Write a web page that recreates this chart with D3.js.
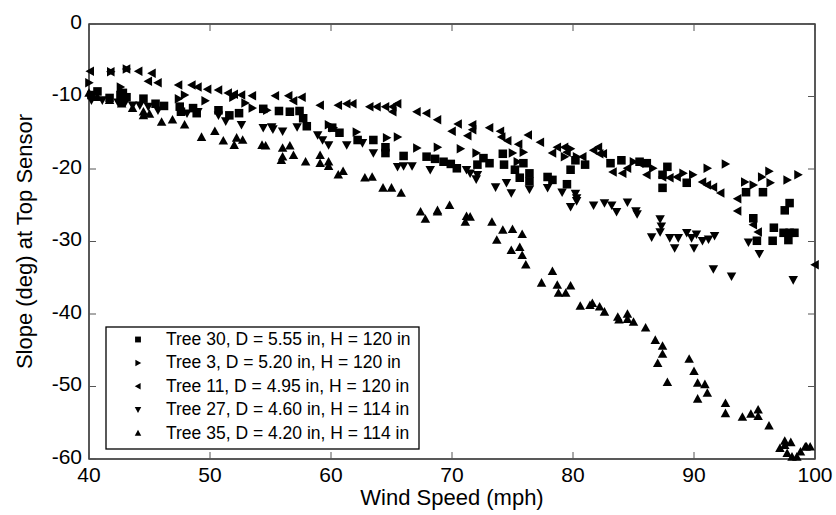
<!DOCTYPE html>
<html><head><meta charset="utf-8">
<script src="https://cdn.jsdelivr.net/npm/d3@7"></script>
<style>
html,body{margin:0;padding:0;background:#fff;}
text{font-family:"Liberation Sans",Arial,Helvetica,sans-serif;fill:#000;}
</style></head>
<body>
<svg id="chart" width="836" height="515"></svg>
<script>
// ---------- data ----------
const xTicks = [40, 50, 60, 70, 80, 90, 100];
const yTicks = [0, -10, -20, -30, -40, -50, -60];
const xLabel = "Wind Speed (mph)";
const yLabel = "Slope (deg) at Top Sensor";
const seriesNames = [
  "Tree 30, D = 5.55 in, H = 120 in",
  "Tree 3, D = 5.20 in, H = 120 in",
  "Tree 11, D = 4.95 in, H = 120 in",
  "Tree 27, D = 4.60 in, H = 114 in",
  "Tree 35, D = 4.20 in, H = 114 in"
];
const seriesShapes = ["square", "right", "left", "down", "up"];

const tree30 = [[40.2,-9.8],[40.7,-9.3],[41.7,-10.2],[42.6,-9.8],[42.8,-9.5],[43.1,-10.1],[44.5,-10.3],[45.5,-11.0],[46.2,-11.3],[47.5,-11.4],[47.6,-12.1],[48.6,-11.6],[48.9,-12.3],[50.7,-11.9],[51.6,-12.6],[52.4,-12.3],[54.4,-11.7],[55.7,-12.0],[56.6,-12.1],[57.4,-12.0],[57.7,-13.0],[58.0,-14.1],[60.1,-14.3],[60.7,-15.0],[62.2,-16.0],[63.5,-16.0],[64.5,-17.0],[64.5,-17.8],[66.0,-18.2],[67.9,-18.3],[68.6,-18.6],[69.3,-19.0],[69.9,-19.3],[70.4,-19.9],[72.1,-19.4],[72.6,-18.5],[73.1,-19.2],[74.2,-17.9],[74.3,-19.4],[75.2,-20.1],[75.9,-19.2],[75.6,-21.2],[76.4,-20.6],[76.4,-21.7],[77.9,-21.1],[78.3,-21.5],[79.5,-22.1],[79.8,-20.1],[80.2,-18.8],[81.0,-19.4],[83.1,-19.2],[84.0,-18.8],[85.5,-19.0],[86.1,-19.2],[87.8,-19.7],[87.4,-20.8],[87.4,-22.6],[89.4,-21.9],[94.3,-23.2],[95.7,-23.2],[94.9,-26.8],[97.9,-24.7],[97.5,-25.7],[96.6,-28.1],[96.5,-29.9],[95.2,-29.9],[97.4,-28.8],[97.9,-28.8],[98.3,-28.8],[97.8,-29.8]];

const tree3 = [[40.0,-8.1],[41.8,-6.6],[43.1,-6.2],[42.6,-8.7],[42.7,-9.4],[47.4,-10.3],[47.9,-9.8],[49.6,-10.6],[51.9,-10.1],[52.9,-10.9],[53.5,-11.6],[54.7,-11.9],[59.8,-13.9],[60.2,-14.3],[62.1,-14.9],[64.6,-15.7],[65.5,-15.6],[67.1,-17.1],[68.8,-17.0],[70.7,-17.2],[72.0,-17.8],[75.0,-17.8],[75.9,-17.7],[75.4,-19.0],[79.8,-17.2],[79.3,-18.3],[80.3,-18.3],[85.0,-19.0],[86.6,-19.9],[89.1,-20.6],[89.9,-20.8],[91.1,-19.9],[92.6,-19.3],[94.2,-21.8],[94.9,-22.2],[95.6,-21.1],[96.3,-21.9],[96.2,-20.3],[97.7,-21.5],[98.6,-20.8]];

const tree11 = [[40.1,-6.5],[41.8,-6.6],[43.1,-6.2],[44.1,-6.5],[45.2,-6.8],[44.9,-7.9],[45.7,-8.1],[47.4,-8.4],[48.5,-8.4],[49.0,-8.7],[49.8,-9.0],[50.7,-9.1],[51.5,-9.5],[52.0,-9.7],[52.6,-9.8],[53.5,-9.9],[55.4,-9.9],[56.5,-9.9],[56.9,-10.6],[57.6,-10.1],[59.1,-11.2],[60.6,-11.2],[61.3,-11.0],[61.8,-11.0],[63.2,-11.4],[63.8,-11.4],[64.5,-11.4],[65.1,-11.4],[65.5,-11.0],[65.1,-12.1],[67.1,-12.1],[67.9,-12.3],[68.8,-13.2],[70.0,-14.8],[70.5,-13.8],[71.3,-15.4],[71.7,-14.6],[71.7,-13.9],[73.1,-14.3],[74.0,-14.8],[74.1,-15.6],[74.6,-16.1],[75.5,-16.6],[76.3,-15.3],[77.3,-16.3],[78.3,-17.8],[78.7,-17.0],[79.3,-17.0],[79.5,-17.7],[80.8,-18.3],[81.7,-17.4],[82.1,-17.0],[82.2,-17.9],[82.5,-17.9],[83.3,-20.4],[84.1,-20.6],[84.5,-19.9],[85.5,-19.2],[86.1,-20.8],[87.4,-21.1],[88.0,-21.2],[88.6,-21.1],[90.7,-21.8],[91.1,-22.2],[91.6,-22.5],[92.2,-23.3],[93.6,-24.1],[93.6,-25.8],[94.9,-27.7],[95.3,-28.7],[100.0,-33.2]];

const tree27 = [[40.2,-10.5],[41.1,-10.5],[42.4,-10.8],[43.0,-10.8],[43.6,-11.2],[44.2,-11.2],[44.9,-11.4],[45.7,-11.9],[48.1,-12.3],[49.0,-12.1],[50.7,-12.6],[51.3,-13.4],[52.6,-13.9],[54.4,-14.3],[55.1,-14.2],[55.2,-14.5],[56.0,-14.8],[57.2,-14.2],[58.9,-15.3],[59.3,-16.0],[59.8,-16.7],[61.3,-16.7],[62.6,-16.4],[63.5,-17.8],[65.5,-19.7],[66.0,-19.6],[66.7,-19.6],[68.2,-20.1],[71.2,-20.1],[71.5,-20.6],[72.1,-20.8],[72.0,-21.4],[73.6,-22.5],[74.5,-21.9],[74.9,-23.3],[76.4,-22.8],[77.9,-22.6],[79.1,-23.2],[80.2,-23.4],[80.3,-24.0],[80.3,-24.4],[79.8,-25.2],[81.7,-25.0],[82.6,-24.7],[83.2,-25.0],[83.6,-25.9],[84.5,-24.6],[85.2,-25.8],[85.3,-26.2],[87.2,-26.9],[87.3,-27.9],[87.2,-28.7],[86.5,-29.4],[88.0,-29.5],[88.4,-30.9],[88.7,-29.5],[89.4,-28.8],[89.8,-29.5],[90.0,-30.9],[90.2,-29.0],[90.7,-29.9],[91.2,-29.7],[91.7,-29.2],[91.6,-33.8],[93.1,-34.8],[94.5,-30.1],[95.4,-31.7],[98.2,-35.3]];

const tree35 = [[40.0,-9.5],[40.7,-10.1],[41.7,-10.5],[42.7,-11.0],[43.6,-11.6],[44.5,-12.1],[44.5,-12.6],[45.0,-12.4],[46.0,-13.5],[46.9,-13.2],[47.9,-13.9],[49.3,-15.6],[50.4,-14.8],[51.1,-16.1],[52.0,-16.7],[52.2,-15.7],[52.7,-16.0],[54.3,-16.7],[54.6,-16.8],[56.0,-17.1],[56.0,-18.3],[56.6,-16.8],[56.9,-18.1],[55.9,-18.8],[57.9,-19.0],[59.1,-18.1],[59.1,-19.2],[59.8,-19.0],[59.8,-19.6],[60.6,-20.8],[61.0,-20.3],[62.8,-21.2],[63.4,-21.1],[64.3,-22.6],[65.0,-22.6],[65.8,-23.3],[67.4,-25.9],[67.8,-26.9],[68.8,-25.9],[68.8,-25.7],[69.8,-25.0],[71.2,-26.5],[71.5,-26.6],[71.1,-27.3],[73.3,-27.3],[74.2,-28.4],[75.0,-28.3],[75.8,-29.0],[73.7,-29.8],[74.9,-31.2],[75.6,-30.8],[75.8,-31.9],[76.1,-33.2],[78.3,-34.1],[77.4,-35.7],[78.7,-36.0],[79.8,-36.1],[78.8,-37.1],[79.4,-37.1],[80.6,-38.9],[81.4,-38.8],[81.6,-38.5],[82.2,-39.0],[82.6,-39.7],[83.7,-40.4],[83.8,-40.8],[84.5,-40.0],[84.5,-40.7],[85.0,-41.1],[86.0,-41.9],[86.8,-43.6],[87.4,-44.4],[87.4,-45.5],[87.0,-46.8],[87.8,-49.4],[89.6,-46.2],[90.0,-47.9],[90.3,-49.5],[90.9,-49.7],[90.3,-51.7],[91.1,-50.9],[92.6,-52.3],[92.6,-53.7],[94.0,-54.2],[94.7,-53.8],[95.3,-53.2],[95.3,-54.1],[96.2,-55.4],[97.5,-57.5],[98.0,-57.7],[97.1,-58.5],[97.7,-59.2],[98.1,-59.7],[98.8,-59.0],[99.2,-58.3],[99.3,-58.3],[99.6,-58.3],[97.5,-58.1],[98.5,-59.7]];

const seriesData = [tree30, tree3, tree11, tree27, tree35];

// ---------- layout ----------
const svg = d3.select("#chart");
const mLeft = 89, mRight = 815, mTop = 24, mBottom = 459;
const x = d3.scaleLinear().domain([40, 100]).range([mLeft, mRight]);
const y = d3.scaleLinear().domain([-60, 0]).range([mBottom, mTop]);

function markerPath(shape, s) {
  const h = s / 2;
  switch (shape) {
    case "square": { const a = s * 0.45; return `M${-a},${-a}H${a}V${a}H${-a}Z`; }
    case "up":    return `M0,${-h}L${h},${h*0.8}L${-h},${h*0.8}Z`;
    case "down":  return `M0,${h}L${h},${-h*0.8}L${-h},${-h*0.8}Z`;
    case "right": return `M${h},0L${-h*0.8},${h}L${-h*0.8},${-h}Z`;
    case "left":  return `M${-h},0L${h*0.8},${h}L${h*0.8},${-h}Z`;
  }
}

// frame
svg.append("rect").attr("x", mLeft).attr("y", mTop)
  .attr("width", mRight - mLeft).attr("height", mBottom - mTop)
  .attr("fill", "none").attr("stroke", "#000").attr("stroke-width", 1.3);

// inside ticks on all four sides
const tickLen = 7;
const tg = svg.append("g").attr("stroke", "#555").attr("stroke-width", 1);
xTicks.forEach(t => {
  tg.append("line").attr("x1", x(t)).attr("x2", x(t)).attr("y1", mBottom).attr("y2", mBottom - tickLen);
  tg.append("line").attr("x1", x(t)).attr("x2", x(t)).attr("y1", mTop).attr("y2", mTop + tickLen);
});
yTicks.forEach(t => {
  tg.append("line").attr("x1", mLeft).attr("x2", mLeft + tickLen).attr("y1", y(t)).attr("y2", y(t));
  tg.append("line").attr("x1", mRight).attr("x2", mRight - tickLen).attr("y1", y(t)).attr("y2", y(t));
});

// tick labels
svg.append("g").selectAll("text").data(xTicks).join("text")
  .attr("x", d => x(d)).attr("y", 482)
  .attr("text-anchor", "middle").attr("font-size", 21)
  .text(d => d);
svg.append("g").selectAll("text").data(yTicks).join("text")
  .attr("x", mLeft - 7).attr("y", d => y(d) + 4.5)
  .attr("text-anchor", "end").attr("font-size", 21)
  .text(d => d === 0 ? "0" : "-" + Math.abs(d));

// axis titles
svg.append("text").attr("x", (mLeft + mRight) / 2).attr("y", 505)
  .attr("text-anchor", "middle").attr("font-size", 22).text(xLabel);
svg.append("text")
  .attr("transform", `translate(32,${(mTop + mBottom) / 2}) rotate(-90)`)
  .attr("text-anchor", "middle").attr("font-size", 22).text(yLabel);

// markers
const plot = svg.append("g");
seriesData.forEach((data, i) => {
  plot.append("g").selectAll("path").data(data).join("path")
    .attr("transform", d => `translate(${x(d[0])},${y(d[1])})`)
    .attr("d", markerPath(seriesShapes[i], 9.5))
    .attr("fill", "#000");
});

// legend
const lg = svg.append("g");
lg.append("rect").attr("x", 106).attr("y", 327).attr("width", 313).attr("height", 122)
  .attr("fill", "#fff").attr("stroke", "#000").attr("stroke-width", 1.3);
seriesNames.forEach((name, i) => {
  const by = 345 + i * 23.4;
  lg.append("path").attr("transform", `translate(138,${by - 5.5})`)
    .attr("d", markerPath(seriesShapes[i], 6.5)).attr("fill", "#000");
  lg.append("text").attr("x", 166).attr("y", by).attr("font-size", 17.5).text(name);
});
</script>
</body></html>
